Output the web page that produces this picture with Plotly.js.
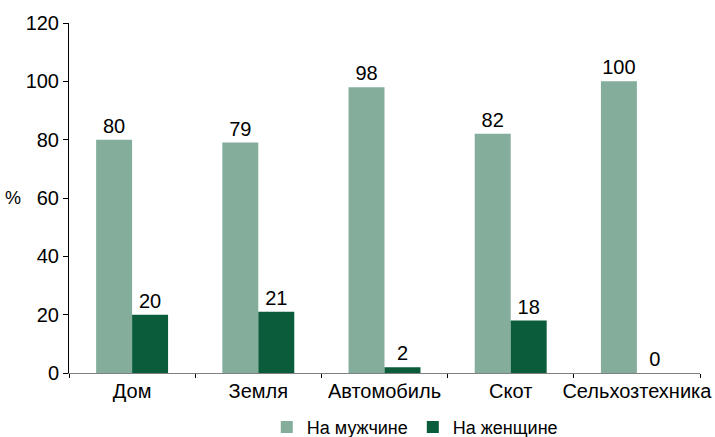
<!DOCTYPE html>
<html>
<head>
<meta charset="utf-8">
<script src="https://cdn.plot.ly/plotly-3.0.1.min.js"></script>
<style>html,body{margin:0;padding:0;background:#fff;}#chart{width:715px;height:437px;}</style>
</head>
<body>
<div id="chart"></div>
<script>
var categories = ["Дом", "Земля", "Автомобиль", "Скот", "Сельхозтехника"];
var menValues = [80, 79, 98, 82, 100];
var womenValues = [20, 21, 2, 18, 0];
var seriesNames = ["На мужчине", "На женщине"];
var yTicks = [0, 20, 40, 60, 80, 100, 120];

var font = {family: "Liberation Sans, Arial, sans-serif", size: 20, color: "#000"};

var traces = [
  {type: "bar", name: seriesNames[0], x: categories, y: menValues,
   marker: {color: "#85ad9c"}, text: menValues.map(String), textposition: "outside",
   textfont: font, cliponaxis: false},
  {type: "bar", name: seriesNames[1], x: categories, y: womenValues,
   marker: {color: "#0a5c3a"}, text: womenValues.map(String), textposition: "outside",
   textfont: font, cliponaxis: false}
];

var layout = {
  width: 715, height: 437,
  margin: {l: 69, r: 15, t: 23, b: 64, autoexpand: false},
  paper_bgcolor: "#fff", plot_bgcolor: "#fff",
  font: font,
  barmode: "group", bargap: 0.43, bargroupgap: 0,
  showlegend: true,
  legend: {orientation: "h", x: 0.548, xanchor: "center", y: -0.155, yanchor: "middle",
           font: {family: font.family, size: 18, color: "#000"}, traceorder: "normal",
           itemwidth: 30, tracegroupgap: 0},
  xaxis: {type: "category", showline: true, linecolor: "#808080", linewidth: 1,
          ticks: "outside", tickson: "boundaries", ticklen: 4, tickcolor: "#000",
          tickangle: 0, automargin: false,
          showgrid: false, zeroline: false, tickfont: font, fixedrange: true},
  yaxis: {range: [0, 120], tickvals: yTicks, ticktext: yTicks.map(String), automargin: false,
          showline: true, linecolor: "#000", linewidth: 1, ticks: "outside", ticklen: 5,
          tickcolor: "#000", showgrid: false, zeroline: false, tickfont: font},
  annotations: [{text: "%", xref: "paper", yref: "paper", x: -0.088, y: 0.5,
                 xanchor: "center", yanchor: "middle", showarrow: false,
                 font: {family: font.family, size: 18, color: "#000"}}]
};

Plotly.newPlot("chart", traces, layout, {displayModeBar: false, staticPlot: true});
</script>
</body>
</html>
